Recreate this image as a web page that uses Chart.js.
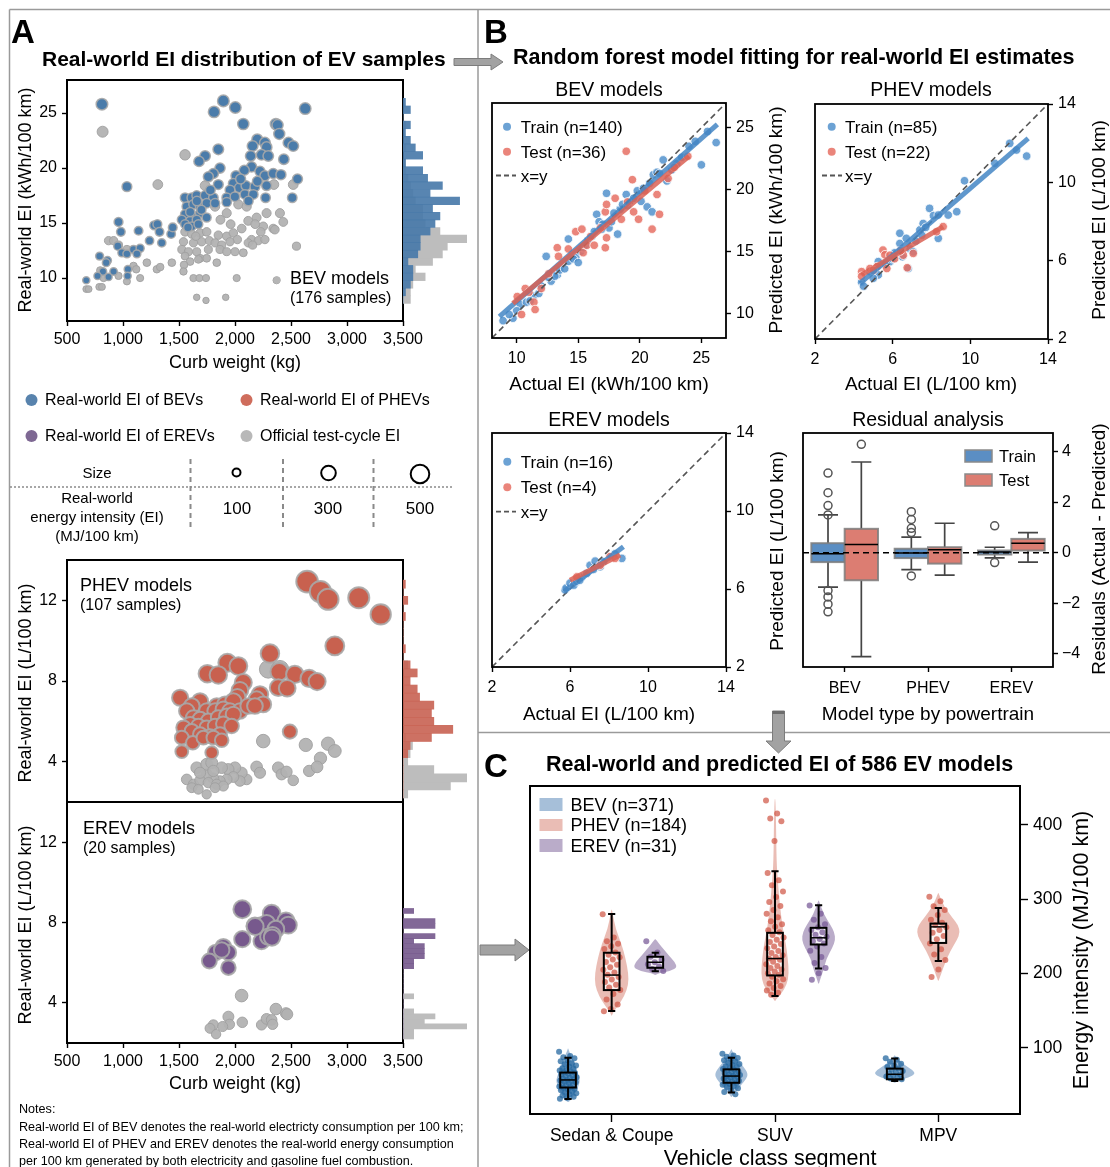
<!DOCTYPE html>
<html>
<head>
<meta charset="utf-8">
<title>Real-world EI of EV models</title>
<script src="https://cdn.jsdelivr.net/npm/chart.js@4.4.1/dist/chart.umd.min.js"></script>
<style>
  body { margin: 0; background: #fff; }
  #page { position: relative; width: 1110px; height: 1167px; overflow: hidden; background: #fff;
          font-family: "Liberation Sans", Arial, Helvetica, sans-serif; color: #000; }
  #page canvas { position: absolute; }
  .t { position: absolute; white-space: nowrap; line-height: 1; }
  .b { font-weight: bold; }
  #page svg { position: absolute; left: 0; top: 0; }
</style>
</head>
<body>
<div id="page"></div>
<script>
// ==========================================
// DATA - panel A (curb weight vs EI)
// ==========================================
const weightTicks = [500, 1000, 1500, 2000, 2500, 3000, 3500];
const bevEiTicks = [10, 15, 20, 25];
const fuelEiTicks = [4, 8, 12];

// [curb weight kg, EI kWh/100 km]
const bevRealPts = [[812,25.8],[1896,26.1],[1813,25.1],[2003,25.5],[2627,25.4],[2074,24.0],[2365,24.0],[2380,23.9],[2395,23.1],[2478,22.3],[2520,22.0],[2199,22.6],[2157,22.0],[2267,22.3],[2282,21.9],[1851,21.7],[2140,21.1],[2237,21.2],[2297,21.1],[2436,20.8],[1733,21.1],[1679,20.6],[2148,20.1],[2083,19.8],[2223,19.7],[2267,19.3],[1866,20.0],[1807,19.5],[2009,19.3],[1762,19.2],[2341,19.5],[2410,19.4],[2558,19.0],[1035,18.3],[1985,18.6],[2039,18.2],[2098,18.4],[2178,18.3],[2282,18.4],[1851,18.5],[1955,18.0],[2511,17.3],[2273,17.3],[1554,17.3],[1614,17.3],[1658,17.5],[1733,17.5],[1807,17.3],[1926,17.3],[1999,17.4],[2089,17.6],[2163,17.6],[1569,16.5],[1629,16.7],[1688,16.5],[1747,16.8],[1822,16.8],[1554,15.8],[1629,15.6],[1688,15.9],[1525,15.3],[1599,15.2],[1658,15.3],[1747,15.5],[1554,14.9],[1614,14.7],[1673,14.9],[1926,16.9],[960,15.1],[981,14.2],[1139,14.3],[1278,14.8],[1307,14.9],[1326,14.2],[1430,14.0],[1444,14.6],[1237,13.4],[1346,13.2],[954,12.9],[990,12.3],[1035,12.2],[1094,12.6],[1153,12.7],[1124,12.2],[791,12.0],[862,11.6],[850,11.4],[1044,10.8],[821,10.6],[916,10.6],[773,10.2],[871,10.1],[1041,10.2],[672,9.8],[1700,16.2],[1600,16.0],[1660,17.0],[1780,18.0],[2050,19.0],[2200,18.8],[2120,17.0],[1580,14.6]];
const bevOfficialPts = [[818,23.3],[1554,21.2],[1311,18.5],[1733,18.4],[2015,18.4],[2347,18.5],[2520,18.5],[1747,17.6],[1822,16.5],[1926,15.9],[2030,16.7],[2104,16.5],[2282,15.9],[2401,15.9],[2431,15.1],[2118,15.2],[2193,15.5],[2252,14.7],[2341,14.5],[2356,14.4],[1961,14.9],[1554,14.2],[1614,14.0],[1688,14.1],[1747,14.2],[1851,13.9],[1926,13.8],[1985,14.1],[2021,13.5],[2148,13.5],[2208,13.4],[2267,13.5],[1540,13.3],[1629,13.2],[1703,13.3],[1771,13.4],[1822,13.2],[1881,13.0],[1955,13.3],[2549,12.9],[2118,13.2],[2157,13.0],[1525,12.6],[1584,12.4],[1658,12.4],[1762,12.6],[1866,12.6],[1926,12.4],[2000,12.4],[2074,12.3],[1554,12.0],[1688,11.8],[1747,11.8],[1599,11.5],[1673,11.7],[1545,11.2],[1837,11.4],[1213,11.4],[1302,10.8],[1332,11.0],[1436,11.4],[1094,11.1],[1118,10.8],[1153,10.0],[871,13.4],[916,13.4],[960,13.0],[1035,12.6],[797,10.7],[827,10.0],[788,9.2],[812,9.2],[960,10.2],[1035,9.7],[672,9.0],[693,9.0],[1540,10.6],[1629,10.0],[1682,10.0],[1741,10.0],[2015,10.0],[2371,9.8],[1658,8.25],[1741,7.97],[1917,8.25],[2060,14.5],[2180,14.9],[2230,14.2],[1870,15.3],[1650,13.8]];

// [curb weight kg, EI L/100 km]
const phevRealPts = [[2644,12.93],[2763,12.43],[2831,12.05],[3105,12.13],[3301,11.3],[2891,9.74],[2312,9.36],[1932,8.9],[2030,8.74],[1753,8.36],[1851,8.3],[2395,8.46],[2534,8.33],[2662,8.13],[2733,7.97],[2386,7.67],[2466,7.64],[2074,7.92],[2044,7.54],[2021,7.2],[1510,7.17],[2223,7.34],[2193,7.09],[2252,6.84],[1688,7.0],[1614,6.76],[1569,6.51],[1837,6.76],[1911,6.84],[1985,7.0],[1747,6.51],[1822,6.51],[1896,6.6],[1955,6.51],[2044,6.51],[2118,6.76],[2178,6.76],[1629,6.18],[1688,6.1],[1762,6.02],[1851,6.18],[1926,6.26],[1985,6.35],[1599,5.85],[1673,5.77],[1747,5.69],[1822,5.77],[1896,5.88],[1970,5.77],[1540,5.69],[1614,5.52],[1688,5.36],[1777,5.27],[1866,5.36],[1525,5.19],[1623,4.94],[1718,5.19],[1807,5.19],[1881,5.06],[2490,5.49],[1525,4.5],[1792,4.45]];
const phevOfficialPts = [[2297,8.58],[2401,8.58],[2252,5.02],[2632,4.83],[2831,4.89],[2891,4.53],[2763,4.17],[2662,3.54],[2733,3.74],[2520,3.07],[2386,3.7],[2416,3.37],[2460,3.5],[2193,3.74],[2223,3.45],[2104,3.12],[2059,3.45],[2000,3.7],[1940,3.62],[1881,3.7],[2044,3.04],[1985,3.24],[1926,3.12],[1866,3.04],[1807,3.17],[1747,3.37],[1658,3.7],[1747,3.87],[1792,3.95],[1569,3.12],[1629,2.88],[1688,3.07],[1762,2.96],[1837,2.88],[1896,2.79],[1614,2.71],[1673,2.63],[1747,2.38],[1822,2.71],[1688,3.45],[1807,3.54]];
const erevRealPts = [[2065,8.66],[2327,8.45],[2455,8.07],[2476,7.87],[2178,7.83],[2223,7.83],[2282,7.95],[2365,7.67],[2065,7.17],[2237,7.07],[2297,7.29],[2336,7.37],[1896,6.79],[1828,6.51],[1941,6.51],[1881,6.63],[1771,6.08],[1941,5.75],[2180,7.8],[2330,7.25]];
const erevOfficialPts = [[2059,4.36],[1941,3.31],[1950,2.93],[1807,2.9],[1777,2.73],[1890,2.82],[1831,2.44],[2065,3.03],[2237,2.9],[2282,3.2],[2327,3.15],[2336,2.93],[2365,3.69],[2455,3.48],[2466,3.43]];

// marginal histograms: bin lower edges + counts
const bevBins = [7.70,8.39,9.08,9.77,10.46,11.15,11.84,12.53,13.22,13.91,14.60,15.29,15.98,16.67,17.36,18.05,18.74,19.43,20.12,20.81,21.50,22.19,22.88,23.57,24.26,24.95,25.64];
const bevRealCounts =     [0,1,3,4,4,2,6,7,7,11,13,15,12,23,11,16,10,8,1,8,5,3,1,3,0,3,1];
const bevOfficialCounts = [3,3,4,9,5,12,16,18,26,15,9,8,8,5,4,3,2,1,1,0,1,0,0,1,0,0,0];
const phevBins = [2.2,2.6,3.0,3.4,3.8,4.2,4.6,5.0,5.4,5.8,6.2,6.6,7.0,7.4,7.8,8.2,8.6,9.0,9.4,9.8,10.2,10.6,11.0,11.4,11.8,12.2,12.6];
const phevRealCounts =     [0,0,0,0,0,2,3,12,21,13,12,13,7,6,3,6,3,0,1,0,0,0,1,0,2,0,1];
const phevOfficialCounts = [2,20,27,13,2,3,4,1,0,0,0,0,0,0,0,0,2,0,0,0,0,0,0,0,0,0,0];
const erevBins = [2.20,2.45,2.70,2.95,3.20,3.45,3.70,3.95,4.20,4.45,4.70,4.95,5.20,5.45,5.70,5.95,6.20,6.45,6.70,6.95,7.20,7.45,7.70,7.95,8.20,8.45];
const erevRealCounts =     [0,0,0,0,0,0,0,0,0,0,0,0,0,0,1,1,2,2,2,1,3,0,3,3,0,1];
const erevOfficialCounts = [1,1,6,2,3,1,0,0,1,0,0,0,0,0,0,0,0,0,0,0,0,0,0,0,0,0];

// ==========================================
// DATA - panel B (random forest fits) [actual, predicted]
// ==========================================
const bevFitTicks = [10, 15, 20, 25];
const fuelFitTicks = [2, 6, 10, 14];
const bevTrainPts = [[8.9,9.4],[9.7,9.6],[10.3,10.7],[10.8,10.9],[11.4,11.4],[11.8,11.6],[12.4,14.6],[12.8,12.6],[13.3,13.1],[13.5,13.5],[13.9,13.6],[14.2,14.2],[14.2,16.0],[14.8,14.5],[15.2,15.0],[15.4,15.3],[15.8,15.9],[16.1,16.2],[16.5,18.0],[16.7,17.4],[17.3,19.7],[17.5,16.9],[17.7,17.4],[18.2,16.4],[18.4,18.4],[18.9,19.6],[19.2,19.05],[19.8,19.9],[20.1,19.05],[20.6,18.6],[21.0,18.2],[21.1,21.2],[21.4,21.4],[21.9,22.4],[22.2,20.7],[23.0,22.1],[24.0,23.5],[25.0,22.0],[25.5,24.7],[26.2,23.8],[12.0,12.2],[12.6,12.9],[13.1,13.0],[14.6,14.4],[15.0,14.1],[15.6,15.5],[16.3,16.6],[16.9,16.8],[17.0,17.2],[17.9,18.1],[18.6,18.8],[19.0,18.7],[19.5,19.3],[20.3,20.1],[20.8,20.5],[21.6,21.3],[22.6,21.6],[23.4,22.6],[24.5,23.9],[11.1,11.0],[10.0,10.2],[9.4,9.9]];
const bevTestPts = [[10.05,11.35],[10.4,9.9],[10.7,12.0],[11.4,10.9],[11.5,10.3],[12.0,12.0],[13.3,15.3],[13.4,14.6],[14.8,16.6],[15.3,16.8],[15.4,14.9],[15.7,15.5],[16.3,15.5],[17.2,15.3],[17.3,16.1],[17.2,18.2],[17.3,18.8],[18.0,19.3],[18.5,17.6],[18.9,23.1],[19.4,20.8],[19.5,18.2],[19.9,17.6],[21.0,16.8],[21.4,19.6],[21.6,18.0],[22.8,21.8],[23.9,22.7],[14.2,15.2],[16.0,16.2],[12.6,13.2],[20.4,19.9],[11.0,11.7],[19.0,19.0],[22.3,20.9],[16.8,16.9]];
const bevTrainFit = [[8.6,9.73],[26.3,25.27]];
const bevTestFit = [[9.7,10.8],[24.0,22.7]];
const phevTrainPts = [[4.4,4.9],[4.5,4.7],[4.83,5.44],[5.26,5.27],[5.26,5.95],[5.86,5.95],[6.0,6.1],[6.37,6.88],[6.37,7.4],[6.7,7.14],[6.8,5.6],[6.9,6.6],[7.06,6.45],[7.2,7.0],[7.4,7.57],[7.57,7.9],[7.7,7.7],[7.9,8.67],[8.1,8.3],[8.35,8.33],[8.35,7.14],[8.86,8.33],[9.3,8.5],[9.7,10.08],[11.26,10.97],[12.03,11.99],[12.38,11.65],[12.9,11.34],[5.6,5.8],[6.1,6.4],[6.5,6.2],[7.5,7.3],[5.0,5.1]];
const phevTestPts = [[4.4,5.44],[4.4,5.2],[4.83,5.6],[5.2,5.7],[5.5,6.54],[5.6,6.3],[5.7,5.6],[5.86,6.28],[6.55,6.28],[6.75,5.64],[7.06,6.37],[8.26,7.48],[8.6,7.74],[5.0,5.5],[6.1,6.1],[6.4,6.5]];
const phevTrainFit = [[4.32,4.84],[12.98,12.25]];
const phevTestFit = [[4.4,5.27],[8.6,7.74]];
const erevTrainPts = [[5.75,5.95],[5.8,6.05],[6.0,6.3],[6.2,6.2],[6.35,6.38],[6.6,6.6],[6.86,6.8],[7.03,7.22],[7.29,7.43],[7.55,7.14],[7.72,7.4],[8.14,7.66],[8.3,7.8],[8.66,7.57],[6.5,6.45],[7.2,7.0]];
const erevTestPts = [[6.35,6.62],[7.55,7.22],[8.05,7.66],[8.31,7.57]];
const erevTrainFit = [[5.67,5.85],[8.74,8.17]];
const erevTestFit = [[6.0,6.45],[8.57,7.74]];

// residual boxes: [low whisker, q1, median, q3, high whisker]
const resCats = ['BEV', 'PHEV', 'EREV'];
const resTicks = [-4, -2, 0, 2, 4];
const resTrainStats = [[-1.36,-0.37,-0.04,0.38,1.5],[-0.67,-0.21,-0.01,0.16,0.62],[-0.2,-0.07,0.03,0.09,0.22]];
const resTestStats = [[-4.12,-1.09,0.33,0.95,3.6],[-0.89,-0.43,0.12,0.22,1.17],[-0.37,0.09,0.38,0.55,0.8]];
const resTrainOutliers = [[0,3.16],[0,2.38],[0,1.87],[0,1.5],[0,-1.5],[0,-1.75],[0,-2.04],[0,-2.34],[1,1.63],[1,1.32],[1,0.97],[1,0.8],[1,-0.92],[2,1.07],[2,-0.39]];
const resTestOutliers = [[0,4.3]];

// ==========================================
// DATA - panel C (MJ/100 km by segment)
// ==========================================
const segments = ['Sedan & Coupe', 'SUV', 'MPV'];
const eiTicks = [100, 200, 300, 400];
// violin outlines: [MJ/100 km, relative width]
const sedanBevViolin = [[27,0.03],[32,0.18],[40,0.36],[50,0.5],[57,0.55],[65,0.45],[75,0.36],[85,0.22],[95,0.05],[99,0.01]];
const suvBevViolin = [[34,0.02],[36,0.05],[42,0.23],[50,0.45],[58,0.68],[65,0.77],[75,0.55],[85,0.27],[95,0.05],[98,0.01]];
const mpvBevViolin = [[53,0.02],[56,0.18],[60,0.64],[65,0.95],[70,0.82],[75,0.55],[82,0.23],[88,0.05],[90,0.01]];
const sedanPhevViolin = [[143,0.02],[147,0.05],[155,0.27],[170,0.59],[185,0.77],[200,0.77],[220,0.64],[240,0.45],[260,0.18],[280,0.05],[286,0.01]];
const suvPhevViolin = [[163,0.02],[165,0.05],[172,0.27],[185,0.55],[200,0.64],[220,0.59],[240,0.5],[260,0.36],[290,0.23],[320,0.14],[350,0.07],[400,0.05],[435,0.02]];
const mpvPhevViolin = [[190,0.02],[192,0.03],[200,0.14],[215,0.32],[230,0.55],[245,0.86],[255,1.0],[265,0.91],[275,0.64],[290,0.27],[305,0.05],[308,0.01]];
const sedanErevViolin = [[198,0.02],[200,0.14],[203,0.68],[208,1.0],[215,0.91],[225,0.59],[235,0.32],[243,0.09],[246,0.02]];
const suvErevViolin = [[186,0.02],[190,0.05],[205,0.23],[220,0.36],[235,0.64],[245,0.77],[255,0.73],[265,0.55],[280,0.23],[295,0.05],[298,0.01]];
// box stats: [low whisker, q1, median, q3, high whisker]
const sedanBevBox = [31, 46.6, 56.8, 66.7, 86.7];
const suvBevBox = [40, 53, 62, 71, 86.7];
const mpvBevBox = [55.5, 57.7, 64.4, 72, 85.5];
const sedanPhevBox = [149.4, 177.6, 197.8, 227.8, 280];
const suvPhevBox = [169.6, 197.3, 220, 254.6, 337.4];
const mpvPhevBox = [216.6, 241, 262.6, 267, 288];
const sedanErevBox = [203, 207.6, 215, 222.4, 227.7];
const suvErevBox = [206.7, 238.9, 247.9, 261.3, 291.7];
// individual models (MJ/100 km)
const sedanBevPts = [94.6,89.1,87.3,85.8,83.2,81.9,79.4,77.8,76.1,74.9,72.6,71.8,70.3,69.5,67.9,66.8,66.1,65.2,63.7,62.9,61.8,60.5,59.7,58.6,57.9,56.8,56.2,55.1,54.4,53.6,52.3,51.7,50.2,49.6,48.1,47.4,46.3,45.1,44.2,42.8,41.5,40.3,38.9,37.2,35.8,34.1,33.0,31.6];
const suvBevPts = [92.1,89.6,88.0,86.4,84.8,83.1,81.7,79.9,78.2,76.8,75.3,74.1,72.9,71.6,70.4,69.2,68.3,67.1,66.2,65.4,64.3,63.5,62.4,61.6,60.5,59.8,58.7,57.6,56.9,55.8,54.7,53.9,52.6,51.4,50.3,48.8,47.2,45.6,43.1,40.7,37.4];
const mpvBevPts = [85.8,83.9,81.2,78.6,76.3,74.1,72.2,70.5,68.8,67.1,65.7,64.2,62.9,61.5,60.1,58.8,57.6];
const sedanPhevPts = [279.6,248.2,243.1,239.8,236.4,232.7,228.3,225.1,221.9,218.6,215.2,211.8,208.4,204.9,201.3,198.2,195.1,191.7,188.4,184.9,181.2,177.8,172.4,165.1,158.3,152.2,149.1];
const suvPhevPts = [432.4,415.1,408.3,404.6,378.2,335.1,325.4,318.6,310.2,302.7,296.1,290.8,285.2,280.4,275.6,270.3,266.1,262.8,258.2,255.4,251.6,248.3,245.2,242.1,239.4,236.2,233.7,230.1,227.5,224.3,222.1,220.2,218.4,215.6,212.3,210.1,207.4,205.2,202.6,200.1,198.3,195.4,192.2,189.5,186.3,183.1,180.4,177.2,174.1,171.3];
const mpvPhevPts = [303.1,297.2,290.4,285.3,278.6,272.1,268.3,265.2,262.1,258.4,254.6,250.2,246.1,240.3,232.5,225.4,218.2,205.3,195.1];
const sedanErevPts = [243.2,228.1,222.4,218.3,215.1,212.2,209.4,206.1,203.2];
const suvErevPts = [291.2,280.4,272.3,266.1,262.2,258.4,255.3,252.1,249.2,246.3,243.1,240.2,236.1,230.4,222.2,214.1,207.3,200.2,191.5];

// ==========================================
// STYLE
// ==========================================
const FONT = '"Liberation Sans", Arial, Helvetica, sans-serif';
const BEV_A = '#4b7caa', PHEV_A = '#c8614f', EREV_A = '#77598d', OFFICIAL = 'rgba(178,178,178,0.95)';
const TRAIN_PT = 'rgba(82,146,205,0.85)', TEST_PT = 'rgba(230,112,100,0.85)';
const TRAIN_LINE = 'rgba(68,134,196,0.85)', TEST_LINE = 'rgba(218,98,85,0.85)';
const RES_TRAIN = '#5b8ec3', RES_TEST = '#dc7d72';
const VIOLIN_FILL = ['rgba(112,152,194,0.62)', 'rgba(214,128,114,0.52)', 'rgba(136,112,162,0.58)'];
const STRIP_COLOR = ['rgba(38,104,160,0.75)', 'rgba(208,88,70,0.72)', 'rgba(118,88,150,0.72)'];
const HUE_OFFSET = [-0.267, 0, 0.267];

Chart.defaults.font.family = FONT;
Chart.defaults.color = '#000';
Chart.defaults.animation = false;
Chart.defaults.responsive = false;
Chart.defaults.events = [];
Chart.defaults.plugins.legend.display = false;
Chart.defaults.plugins.tooltip.enabled = false;

const page = document.getElementById('page');

// black frame round every plot area (spines)
Chart.register({
  id: 'frame',
  afterDatasetsDraw(chart, args, opts) {
    const a = chart.chartArea, ctx = chart.ctx;
    ctx.save();
    ctx.strokeStyle = '#000';
    ctx.lineWidth = opts.lw || 1.8;
    ctx.strokeRect(a.left, a.top, a.right - a.left, a.bottom - a.top);
    ctx.restore();
  }
});

function toXY(pts) { return pts.map(([x, y]) => ({ x, y })); }

function linAxis(pos, min, max, ticks, space, o = {}) {
  const vertical = pos === 'left' || pos === 'right';
  return {
    type: 'linear', position: pos, min, max, offset: false,
    afterBuildTicks: s => { s.ticks = ticks.map(v => ({ value: v })); },
    afterFit: s => {
      if (vertical) s.width = space; else s.height = space;
      s.paddingLeft = s.paddingRight = s.paddingTop = s.paddingBottom = 0;
    },
    grid: { drawOnChartArea: false, drawTicks: true, tickLength: o.tick || 5, tickColor: '#000', tickWidth: 1.4, color: '#000' },
    border: { display: false },
    ticks: { font: { size: o.fs || 16 }, color: '#000', padding: o.pad ?? 4, autoSkip: false,
             maxRotation: 0, minRotation: 0, callback: o.fmt || (v => String(v)) }
  };
}

// canvas placed so that the chart area lands on plot {x,y,w,h}
function makeChart(plot, m, cfg) {
  const c = document.createElement('canvas');
  const W = plot.w + m.l + m.r, H = plot.h + m.t + m.b;
  c.width = W; c.height = H;
  c.style.left = (plot.x - m.l) + 'px';
  c.style.top = (plot.y - m.t) + 'px';
  c.style.width = W + 'px';
  c.style.height = H + 'px';
  page.appendChild(c);
  const used = {};
  Object.values(cfg.options.scales || {}).forEach(s => { if (s.display !== false) used[s.position] = true; });
  cfg.options.layout = { autoPadding: false, padding: {
    left: used.left ? 0 : m.l, right: used.right ? 0 : m.r,
    top: m.t, bottom: used.bottom ? 0 : m.b } };
  return new Chart(c, cfg);
}

// ==========================================
// PANEL A
// ==========================================
const radiusKwh = c => c.raw ? 0.6 * Math.sqrt(c.raw.y * 3.6) : 4;
const radiusLitre = c => c.raw ? 0.45 * Math.sqrt(c.raw.y * 45) : 6;
const weightFmt = v => v.toLocaleString('en-US');

function scatterA(plot, m, realPts, offPts, color, radius, yMin, yMax, yTicks, showX) {
  return makeChart(plot, m, {
    type: 'scatter',
    data: { datasets: [
      { data: toXY(realPts), backgroundColor: color, borderColor: 'rgba(168,168,168,0.9)',
        borderWidth: radius === radiusKwh ? 1.5 : 2, pointRadius: radius, order: 0 },
      { data: toXY(offPts), backgroundColor: OFFICIAL, borderColor: 'rgba(160,160,160,0.9)',
        borderWidth: 1, pointRadius: radius, order: 1 }
    ] },
    options: {
      scales: {
        x: showX ? linAxis('bottom', 500, 3500, weightTicks, m.b, { fmt: weightFmt })
                 : { type: 'linear', position: 'bottom', display: false, min: 500, max: 3500 },
        y: linAxis('left', yMin, yMax, yTicks, m.l, { pad: 5 })
      },
      plugins: { frame: { lw: 2 } }
    }
  });
}

function histA(plot, bins, width, realCounts, offCounts, color, yMin, yMax, xMax) {
  const centers = bins.map(b => b + width / 2);
  return makeChart(plot, { l: 0, t: 0, r: 0, b: 0 }, {
    type: 'bar',
    data: { datasets: [
      { data: centers.map((c, i) => ({ x: realCounts[i], y: c })), backgroundColor: color,
        grouped: false, categoryPercentage: 1, barPercentage: 1, borderWidth: 0, order: 0 },
      { data: centers.map((c, i) => ({ x: offCounts[i], y: c })), backgroundColor: '#bdbdbd',
        grouped: false, categoryPercentage: 1, barPercentage: 1, borderWidth: 0, order: 1 }
    ] },
    options: {
      indexAxis: 'y',
      scales: {
        x: { type: 'linear', display: false, min: 0, max: xMax, offset: false },
        y: { type: 'linear', display: false, min: yMin, max: yMax, offset: false }
      },
      plugins: { frame: false }
    }
  });
}

scatterA({ x: 67, y: 80, w: 336, h: 241 }, { l: 57, t: 6, r: 26, b: 30 }, bevRealPts, bevOfficialPts, BEV_A, radiusKwh, 6.1, 28, bevEiTicks, true);
scatterA({ x: 67, y: 560, w: 336, h: 242 }, { l: 57, t: 6, r: 4, b: 2 }, phevRealPts, phevOfficialPts, PHEV_A, radiusLitre, 2, 14, fuelEiTicks, false);
scatterA({ x: 67, y: 802, w: 336, h: 241 }, { l: 57, t: 2, r: 26, b: 30 }, erevRealPts, erevOfficialPts, EREV_A, radiusLitre, 2, 14, fuelEiTicks, true);
histA({ x: 403, y: 80, w: 64, h: 241 }, bevBins, 0.69, bevRealCounts, bevOfficialCounts, 'rgba(70,120,168,0.9)', 6.1, 28, 26);
histA({ x: 403, y: 560, w: 64, h: 242 }, phevBins, 0.4, phevRealCounts, phevOfficialCounts, 'rgba(200,98,82,0.9)', 2, 14, 27);
histA({ x: 403, y: 802, w: 64, h: 241 }, erevBins, 0.25, erevRealCounts, erevOfficialCounts, 'rgba(116,88,140,0.9)', 2, 14, 6);

// ==========================================
// PANEL B
// ==========================================
function fitChart(plot, lo, hi, ticks, trainPts, testPts, trainFit, testFit) {
  const line = (pts, color, order) => ({ data: toXY(pts), showLine: true, borderColor: color, borderWidth: 5,
    pointRadius: 0, order });
  return makeChart(plot, { l: 8, t: 12, r: 42, b: 32 }, {
    type: 'scatter',
    data: { datasets: [
      line(testFit, TEST_LINE, 0),
      line(trainFit, TRAIN_LINE, 1),
      { data: [{ x: lo, y: lo }, { x: hi, y: hi }], showLine: true, borderColor: '#555', borderWidth: 1.6,
        borderDash: [6, 4], pointRadius: 0, order: 2 },
      { data: toXY(testPts), backgroundColor: TEST_PT, borderColor: '#fff', borderWidth: 0.8, pointRadius: 4.3, order: 3 },
      { data: toXY(trainPts), backgroundColor: TRAIN_PT, borderColor: '#fff', borderWidth: 0.8, pointRadius: 4.3, order: 4 }
    ] },
    options: {
      scales: {
        x: linAxis('bottom', lo, hi, ticks, 32, { pad: 6 }),
        y: linAxis('right', lo, hi, ticks, 42, { pad: 5 })
      }
    }
  });
}

fitChart({ x: 492, y: 103, w: 234, h: 235 }, 8, 27, bevFitTicks, bevTrainPts, bevTestPts, bevTrainFit, bevTestFit);
fitChart({ x: 815, y: 104, w: 233, h: 235 }, 2, 14, fuelFitTicks, phevTrainPts, phevTestPts, phevTrainFit, phevTestFit);
fitChart({ x: 492, y: 433, w: 234, h: 234 }, 2, 14, fuelFitTicks, erevTrainPts, erevTestPts, erevTrainFit, erevTestFit);

// residual box plots
const RES_HALF = 0.2, RES_CAP = 0.12, RES_SHIFT = 0.2;
function boxPlugin(groups) {
  return {
    id: 'resboxes',
    beforeDatasetsDraw(chart) {
      const { ctx, scales: { x, y } } = chart;
      const px = v => x.getPixelForValue(v), py = v => y.getPixelForValue(v);
      ctx.save();
      groups.forEach(g => {
        const [lo, q1, med, q3, hi] = g.stats;
        ctx.strokeStyle = '#454545'; ctx.lineWidth = 1.7;
        ctx.beginPath();
        ctx.moveTo(px(g.x), py(q3)); ctx.lineTo(px(g.x), py(hi));
        ctx.moveTo(px(g.x - RES_CAP), py(hi)); ctx.lineTo(px(g.x + RES_CAP), py(hi));
        ctx.moveTo(px(g.x), py(q1)); ctx.lineTo(px(g.x), py(lo));
        ctx.moveTo(px(g.x - RES_CAP), py(lo)); ctx.lineTo(px(g.x + RES_CAP), py(lo));
        ctx.stroke();
        const xl = px(g.x - RES_HALF), xr = px(g.x + RES_HALF), yt = py(q3), yb = py(q1);
        ctx.fillStyle = g.fill; ctx.fillRect(xl, yt, xr - xl, yb - yt);
        ctx.strokeStyle = 'rgba(125,125,125,0.85)'; ctx.lineWidth = 2;
        ctx.strokeRect(xl, yt, xr - xl, yb - yt);
        ctx.strokeStyle = '#000'; ctx.lineWidth = 1.6;
        ctx.beginPath(); ctx.moveTo(xl, py(med)); ctx.lineTo(xr, py(med)); ctx.stroke();
      });
      ctx.restore();
    }
  };
}
const resGroups = resTrainStats.map((s, i) => ({ x: i - RES_SHIFT, stats: s, fill: RES_TRAIN }))
  .concat(resTestStats.map((s, i) => ({ x: i + RES_SHIFT, stats: s, fill: RES_TEST })));
const minusFmt = v => (v < 0 ? '\u2212' + Math.abs(v) : String(v));

makeChart({ x: 803, y: 433, w: 250, h: 234 }, { l: 4, t: 12, r: 45, b: 32 }, {
  type: 'scatter',
  data: { datasets: [
    { data: [{ x: -0.5, y: 0 }, { x: 2.5, y: 0 }], showLine: true, borderColor: '#000', borderWidth: 1.6,
      borderDash: [6, 4], pointRadius: 0, order: 0 },
    { data: resTrainOutliers.map(([c, v]) => ({ x: c - RES_SHIFT, y: v })), backgroundColor: 'rgba(255,255,255,0)',
      borderColor: '#555', borderWidth: 1.5, pointRadius: 4, order: 1 },
    { data: resTestOutliers.map(([c, v]) => ({ x: c + RES_SHIFT, y: v })), backgroundColor: 'rgba(255,255,255,0)',
      borderColor: '#555', borderWidth: 1.5, pointRadius: 4, order: 1 }
  ] },
  options: {
    scales: {
      x: linAxis('bottom', -0.5, 2.5, [0, 1, 2], 32, { pad: 7, fmt: v => resCats[Math.round(v)] }),
      y: linAxis('right', -4.53, 4.75, resTicks, 45, { pad: 4, fmt: minusFmt })
    }
  },
  plugins: [boxPlugin(resGroups)]
});

// ==========================================
// PANEL C
// ==========================================
const VIOLIN_HALF = 0.133, BOX_HALF = 0.048, CAP_HALF = 0.022, STRIP_SPREAD = 0.11;
const jitter = i => (((i * 0.6180339) % 1) - 0.5) * STRIP_SPREAD;

const cGroups = [
  { cat: 0, hue: 0, violin: sedanBevViolin, box: sedanBevBox, pts: sedanBevPts },
  { cat: 0, hue: 1, violin: sedanPhevViolin, box: sedanPhevBox, pts: sedanPhevPts },
  { cat: 0, hue: 2, violin: sedanErevViolin, box: sedanErevBox, pts: sedanErevPts },
  { cat: 1, hue: 0, violin: suvBevViolin, box: suvBevBox, pts: suvBevPts },
  { cat: 1, hue: 1, violin: suvPhevViolin, box: suvPhevBox, pts: suvPhevPts },
  { cat: 1, hue: 2, violin: suvErevViolin, box: suvErevBox, pts: suvErevPts },
  { cat: 2, hue: 0, violin: mpvBevViolin, box: mpvBevBox, pts: mpvBevPts },
  { cat: 2, hue: 1, violin: mpvPhevViolin, box: mpvPhevBox, pts: mpvPhevPts }
];
cGroups.forEach(g => { g.x = g.cat + HUE_OFFSET[g.hue]; });

function smoothClosed(ctx, pts) {
  const n = pts.length;
  const mid = (p, q) => [(p[0] + q[0]) / 2, (p[1] + q[1]) / 2];
  const m0 = mid(pts[n - 1], pts[0]);
  ctx.beginPath();
  ctx.moveTo(m0[0], m0[1]);
  for (let i = 0; i < n; i++) {
    const p = pts[i], m = mid(p, pts[(i + 1) % n]);
    ctx.quadraticCurveTo(p[0], p[1], m[0], m[1]);
  }
  ctx.closePath();
}

function violinPlugin(groups) {
  return {
    id: 'violins',
    beforeDatasetsDraw(chart) {
      const { ctx, scales: { x, y }, chartArea: a } = chart;
      ctx.save();
      ctx.beginPath(); ctx.rect(a.left, a.top, a.right - a.left, a.bottom - a.top); ctx.clip();
      groups.forEach(g => {
        const right = g.violin.map(([v, w]) => [x.getPixelForValue(g.x + w * VIOLIN_HALF), y.getPixelForValue(v)]);
        const left = g.violin.map(([v, w]) => [x.getPixelForValue(g.x - w * VIOLIN_HALF), y.getPixelForValue(v)]).reverse();
        smoothClosed(ctx, right.concat(left));
        ctx.fillStyle = VIOLIN_FILL[g.hue];
        ctx.fill();
        const q1 = g.box[1], q3 = g.box[3];
        const xl = x.getPixelForValue(g.x - BOX_HALF), xr = x.getPixelForValue(g.x + BOX_HALF);
        ctx.fillStyle = 'rgba(255,255,255,0.85)';
        ctx.fillRect(xl, y.getPixelForValue(q3), xr - xl, y.getPixelForValue(q1) - y.getPixelForValue(q3));
      });
      ctx.restore();
    },
    afterDatasetsDraw(chart) {
      const { ctx, scales: { x, y } } = chart;
      const px = v => x.getPixelForValue(v), py = v => y.getPixelForValue(v);
      ctx.save();
      ctx.strokeStyle = '#000';
      groups.forEach(g => {
        const [lo, q1, med, q3, hi] = g.box;
        ctx.lineWidth = 2;
        ctx.beginPath();
        ctx.moveTo(px(g.x), py(q3)); ctx.lineTo(px(g.x), py(hi));
        ctx.moveTo(px(g.x - CAP_HALF), py(hi)); ctx.lineTo(px(g.x + CAP_HALF), py(hi));
        ctx.moveTo(px(g.x), py(q1)); ctx.lineTo(px(g.x), py(lo));
        ctx.moveTo(px(g.x - CAP_HALF), py(lo)); ctx.lineTo(px(g.x + CAP_HALF), py(lo));
        ctx.stroke();
        const xl = px(g.x - BOX_HALF), xr = px(g.x + BOX_HALF);
        ctx.strokeRect(xl, py(q3), xr - xl, py(q1) - py(q3));
        ctx.lineWidth = 1.5;
        ctx.beginPath(); ctx.moveTo(xl, py(med)); ctx.lineTo(xr, py(med)); ctx.stroke();
      });
      ctx.restore();
    }
  };
}

const cDatasets = [0, 1, 2].map(h => ({
  data: cGroups.filter(g => g.hue === h).flatMap(g => g.pts.map((v, i) => ({ x: g.x + jitter(i), y: v }))),
  backgroundColor: STRIP_COLOR[h], borderWidth: 0, pointRadius: 3
}));

makeChart({ x: 530, y: 786, w: 490, h: 328 }, { l: 4, t: 4, r: 52, b: 34 }, {
  type: 'scatter',
  data: { datasets: cDatasets },
  options: {
    scales: {
      x: linAxis('bottom', -0.5, 2.5, [0, 1, 2], 34, { tick: 8, pad: 4, fs: 17.5, fmt: v => segments[Math.round(v)] }),
      y: linAxis('right', 11, 452, eiTicks, 52, { tick: 8, pad: 5, fs: 17.5 })
    },
    plugins: { frame: { lw: 2 } }
  },
  plugins: [violinPlugin(cGroups)]
});

// ==========================================
// LINES, ARROWS, LEGEND MARKERS (svg)
// ==========================================
page.insertAdjacentHTML('beforeend', `
<svg width="1110" height="1167" xmlns="http://www.w3.org/2000/svg">
  <g stroke="#9a9a9a" stroke-width="1.5">
    <line x1="9.5" y1="9.5" x2="1110" y2="9.5"/>
    <line x1="9.5" y1="9.5" x2="9.5" y2="1167"/>
    <line x1="478" y1="9.5" x2="478" y2="1167"/>
    <line x1="478" y1="732.5" x2="1110" y2="732.5"/>
  </g>
  <g fill="#a2a2a2" stroke="#7c7c7c" stroke-width="1">
    <polygon points="454,58.5 491,58.5 491,54 503,62 491,70 491,65.5 454,65.5"/>
    <polygon points="772.5,711 784.5,711 784.5,741 791,741 778.5,753 766,741 772.5,741"/>
    <polygon points="480,945 515,945 515,939 529,950 515,961 515,955 480,955"/>
  </g>
  <rect x="772.5" y="711" width="12" height="3" fill="#6c6c6c"/>
  <g stroke="#8a8a8a" stroke-width="2" stroke-dasharray="5,4">
    <line x1="190.5" y1="459" x2="190.5" y2="530"/>
    <line x1="283" y1="459" x2="283" y2="530"/>
    <line x1="373.5" y1="459" x2="373.5" y2="530"/>
  </g>
  <line x1="10" y1="487" x2="452" y2="487" stroke="#8a8a8a" stroke-width="1.5" stroke-dasharray="2,2"/>
  <g fill="none" stroke="#000" stroke-width="2">
    <circle cx="236.5" cy="472.5" r="4"/>
    <circle cx="328.5" cy="473" r="7.3"/>
    <circle cx="420" cy="474" r="9.3"/>
  </g>
  <circle cx="31.5" cy="400" r="6" fill="#5883ad"/>
  <circle cx="246.5" cy="400" r="6" fill="#cf6d5c"/>
  <circle cx="31.5" cy="436" r="6" fill="#7e6893"/>
  <circle cx="246.5" cy="436" r="6" fill="#b8b8b8"/>
  <circle cx="277" cy="280" r="3.6" fill="#b5b5b5"/>
  <circle cx="507" cy="126.7" r="4" fill="${TRAIN_PT}"/>
  <circle cx="507" cy="151.7" r="4" fill="${TEST_PT}"/>
  <line x1="496" y1="175.5" x2="516" y2="175.5" stroke="#555" stroke-width="1.8" stroke-dasharray="5,3"/>
  <circle cx="831.7" cy="126.7" r="4" fill="${TRAIN_PT}"/>
  <circle cx="831.7" cy="151.7" r="4" fill="${TEST_PT}"/>
  <line x1="822" y1="175.5" x2="842" y2="175.5" stroke="#555" stroke-width="1.8" stroke-dasharray="5,3"/>
  <circle cx="507.3" cy="461.7" r="4" fill="${TRAIN_PT}"/>
  <circle cx="507.3" cy="487.3" r="4" fill="${TEST_PT}"/>
  <line x1="496" y1="511.7" x2="516" y2="511.7" stroke="#555" stroke-width="1.8" stroke-dasharray="5,3"/>
  <rect x="965" y="450" width="27" height="12" fill="${RES_TRAIN}" stroke="#8a8a8a" stroke-width="1.5"/>
  <rect x="965" y="474" width="27" height="12" fill="${RES_TEST}" stroke="#8a8a8a" stroke-width="1.5"/>
  <rect x="539.5" y="798" width="23" height="13" fill="${VIOLIN_FILL[0]}"/>
  <rect x="539.5" y="819" width="23" height="12" fill="${VIOLIN_FILL[1]}"/>
  <rect x="539.5" y="839" width="23" height="13" fill="${VIOLIN_FILL[2]}"/>
</svg>`);

// ==========================================
// TEXT
// ==========================================
function text(str, x, y, size, o = {}) {
  const d = document.createElement('div');
  d.className = 't' + (o.bold ? ' b' : '');
  d.textContent = str;
  d.style.fontSize = size + 'px';
  d.style.left = x + 'px';
  d.style.top = y + 'px';
  const tx = o.align === 'left' ? '0' : (o.align === 'right' ? '-100%' : '-50%');
  d.style.transform = 'translate(' + tx + ', -50%)' + (o.rot ? ' rotate(' + o.rot + 'deg)' : '');
  page.appendChild(d);
}
const L = { align: 'left' };

// panel A
text('A', 11, 31, 33, { bold: true, align: 'left' });
text('Real-world EI distribution of EV samples', 42, 58, 21, { bold: true, align: 'left' });
text('Real-world EI (kWh/100 km)', 25, 200, 18, { rot: -90 });
text('Real-world EI (L/100 km)', 25, 683, 18, { rot: -90 });
text('Real-world EI (L/100 km)', 25, 925, 18, { rot: -90 });
text('Curb weight (kg)', 235, 362, 18);
text('Curb weight (kg)', 235, 1083, 18);
text('BEV models', 290, 278, 18, L);
text('(176 samples)', 290, 298, 16, L);
text('PHEV models', 80, 585, 18, L);
text('(107 samples)', 80, 605, 16, L);
text('EREV models', 83, 828, 18, L);
text('(20 samples)', 83, 848, 16, L);
text('Real-world EI of BEVs', 45, 400, 16, L);
text('Real-world EI of PHEVs', 260, 400, 16, L);
text('Real-world EI of EREVs', 45, 436, 16, L);
text('Official test-cycle EI', 260, 436, 16, L);
text('Size', 97, 472, 15);
text('Real-world', 97, 497, 15);
text('energy intensity (EI)', 97, 516, 15);
text('(MJ/100 km)', 97, 535, 15);
text('100', 237, 508, 17);
text('300', 328, 508, 17);
text('500', 420, 508, 17);
text('Notes:', 19, 1109, 12.6, L);
text('Real-world EI of BEV denotes the real-world electricty consumption per 100 km;', 19, 1127, 12.6, L);
text('Real-world EI of PHEV and EREV denotes the real-world energy consumption', 19, 1144, 12.6, L);
text('per 100 km generated by both electricity and gasoline fuel combustion.', 19, 1161, 12.6, L);

// panel B
text('B', 484, 31, 33, { bold: true, align: 'left' });
text('Random forest model fitting for real-world EI estimates', 513, 58, 21.5, { bold: true, align: 'left' });
text('BEV models', 609, 90, 19.5);
text('PHEV models', 931, 90, 19.5);
text('EREV models', 609, 420, 19.5);
text('Residual analysis', 928, 420, 19.5);
text('Train (n=140)', 520.7, 126.7, 17, L);
text('Test (n=36)', 520.7, 151.7, 17, L);
text('x=y', 520.7, 175.5, 17, L);
text('Train (n=85)', 845, 126.7, 17, L);
text('Test (n=22)', 845, 151.7, 17, L);
text('x=y', 845, 175.5, 17, L);
text('Train (n=16)', 520.7, 461.7, 17, L);
text('Test (n=4)', 520.7, 487.3, 17, L);
text('x=y', 520.7, 511.7, 17, L);
text('Train', 999, 456, 16.5, L);
text('Test', 999, 480, 16.5, L);
text('Actual EI (kWh/100 km)', 609, 383, 19);
text('Actual EI (L/100 km)', 931, 383, 19);
text('Actual EI (L/100 km)', 609, 713, 19);
text('Model type by powertrain', 928, 713, 19);
text('Predicted EI (kWh/100 km)', 775, 220, 19, { rot: -90 });
text('Predicted EI (L/100 km)', 1098, 220, 19, { rot: -90 });
text('Predicted EI (L/100 km)', 776, 551, 19, { rot: -90 });
text('Residuals (Actual - Predicted)', 1098, 549, 19, { rot: -90 });

// panel C
text('C', 484, 765, 33, { bold: true, align: 'left' });
text('Real-world and predicted EI of 586 EV models', 546, 765, 21.5, { bold: true, align: 'left' });
text('BEV (n=371)', 570.5, 804.5, 18, L);
text('PHEV (n=184)', 570.5, 825, 18, L);
text('EREV (n=31)', 570.5, 845.5, 18, L);
text('Energy intensity (MJ/100 km)', 1082, 950, 21.5, { rot: -90 });
text('Vehicle class segment', 770, 1159, 21.5);
</script>
</body>
</html>
